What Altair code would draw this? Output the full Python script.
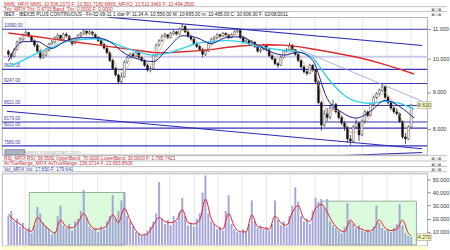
import altair as alt
import pandas as pd

# ---------------- data ----------------
OPEN = [10250,10150,10080,10300,10550,10650,10800,10880,10750,10600,10450,10250,10050,10120,10300,10480,10550,10700,10780,10650,
        10820,10760,10600,10500,10650,10780,10850,10930,10850,10900,10820,10700,10600,10480,10350,10200,9950,9700,9500,9300,
        9450,9900,10050,10150,10100,10200,10050,9950,9800,9650,9700,10100,10450,10600,10750,10800,10700,10850,10900,10820,
        11000,11100,10900,10750,10650,10500,10400,10300,10150,10250,10500,10650,10700,10800,10750,10850,10800,10700,10800,10900,
        10950,10700,10550,10600,10500,10550,10400,10250,10300,10450,10300,10100,10000,9850,9800,10050,10250,10300,10450,10300,
        10150,9950,9750,9600,9550,9800,9650,9300,8700,8100,8400,8300,8550,8650,8450,8300,8150,8050,7750,7700,
        8050,8150,7850,8200,8450,8350,8650,8850,8950,9050,9150,8850,8700,8550,8450,8400,8200,7800,7750,8050]
HIGH = [10300,10200,10350,10600,10720,10850,10950,10900,10780,10650,10500,10300,10200,10350,10520,10620,10750,10850,10800,10870,
        10880,10780,10650,10700,10820,10900,10980,10950,10960,10920,10850,10750,10650,10520,10400,10250,10000,9750,9550,9550,
        9950,10100,10200,10220,10250,10230,10100,10000,9850,9780,10150,10500,10650,10800,10870,10820,10900,10960,10930,11050,
        11180,11120,10950,10800,10700,10550,10450,10350,10300,10550,10700,10760,10850,10830,10900,10880,10830,10850,10950,11000,
        10970,10750,10680,10620,10620,10580,10430,10350,10500,10480,10330,10150,10030,9900,10100,10300,10350,10520,10480,10320,
        10180,9980,9800,9650,9850,9830,9680,9350,8750,8500,8550,8650,8780,8700,8500,8350,8200,8080,7850,8100,
        8250,8180,8250,8500,8480,8700,8900,9000,9100,9250,9180,8900,8750,8600,8550,8430,8230,7900,8100,8660]
LOW = [10050,9980,10050,10280,10500,10600,10750,10700,10550,10380,10200,9980,10000,10080,10250,10450,10500,10650,10600,10620,
       10700,10550,10420,10480,10600,10720,10800,10780,10800,10750,10650,10550,10420,10300,10150,9900,9650,9450,9250,9260,
       9420,9850,10000,10050,10050,10000,9900,9750,9600,9580,9680,10080,10400,10550,10700,10650,10680,10800,10770,10800,
       10950,10850,10700,10600,10450,10350,10250,10050,10100,10220,10450,10600,10650,10680,10720,10720,10650,10680,10780,10870,
       10650,10500,10520,10450,10470,10350,10200,10200,10280,10250,10050,9950,9800,9720,9780,10020,10200,10280,10250,10100,
       9900,9700,9550,9480,9530,9600,9250,8650,7950,8050,8200,8250,8500,8400,8250,8100,7950,7650,7600,7680,
       8000,7700,7820,8150,8300,8330,8600,8800,8900,9000,8800,8650,8500,8400,8350,8150,7750,7620,7720,8020]
CLOSE = [10150,10080,10300,10550,10650,10800,10880,10750,10600,10450,10250,10050,10120,10300,10480,10550,10700,10780,10650,10820,
         10760,10600,10500,10650,10780,10850,10930,10850,10900,10820,10700,10600,10480,10350,10200,9950,9700,9500,9300,9450,
         9900,10050,10150,10100,10200,10050,9950,9800,9650,9700,10100,10450,10600,10750,10800,10700,10850,10900,10820,11000,
         11100,10900,10750,10650,10500,10400,10300,10150,10250,10500,10650,10700,10800,10750,10850,10800,10700,10800,10900,10950,
         10700,10550,10600,10500,10550,10400,10250,10300,10450,10300,10100,10000,9850,9800,10050,10250,10300,10450,10300,10150,
         9950,9750,9600,9550,9800,9650,9300,8700,8100,8400,8300,8550,8650,8450,8300,8150,8050,7750,7700,8050,
         8150,7850,8200,8450,8350,8650,8850,8950,9050,9150,8850,8700,8550,8450,8400,8200,7800,7750,8050,8630]

VOLUME = [22000,26000,18000,20000,14000,17000,11000,13000,9000,15000,29000,24000,17000,14000,12000,8000,10000,22000,30000,15000,
          13000,16000,11000,18000,20000,26000,42000,21000,14000,12000,13000,10000,14000,12000,18000,22000,38000,20000,26000,34000,
          40000,22000,18000,14000,10000,9000,7000,8000,11000,14000,18000,24000,48000,20000,16000,19000,15000,22000,18000,25000,
          36000,22000,15000,17000,14000,20000,24000,40000,53000,24000,18000,16000,12000,14000,11000,26000,38000,16000,12000,10000,
          9000,12000,10000,16000,34000,18000,13000,15000,12000,14000,11000,16000,34000,19000,15000,18000,14000,22000,30000,44000,
          33000,22000,18000,20000,16000,26000,36000,33000,35000,28000,35000,18000,15000,13000,11000,9000,14000,32000,18000,16000,
          13000,15000,11000,10000,12000,10000,14000,30000,17000,13000,11000,12000,10000,13000,16000,31000,15000,9000,7000,6000]

# moving averages on the price panel, every 5 bars
MA_IDX = [0,5,10,15,20,25,30,35,40,45,50,55,60,65,70,75,80,85,90,95,100,105,110,115,120,125,130,135,140]
MA_RED = [10860,10795,10730,10660,10595,10530,10465,10400,10335,10270,10205,10200,10230,10260,10300,10370,10420,10450,10460,10450,
          10400,10320,10240,10150,10060,9950,9820,9680,9530]
MA_CYAN = [9761,9952,10186,10373,10566,10633,10665,10566,10373,10218,10122,10186,10341,10503,10566,10600,10566,10438,10341,10279,
           10218,10030,9430,8966,8736,8681,8736,8681,8519]
MA_NAVY = [9930,10566,10566,10341,10600,10700,10700,10566,10186,9985,9918,10341,10767,10700,10503,10700,10733,10503,10249,10122,
           10218,9952,8819,8439,8282,8466,8764,8594,8282]
# short average (orange), every 2 bars
ORANGE_IDX = list(range(0, 140, 2)) + [139]
ORANGE = [10100,10150,10400,10720,10780,10510,10220,10240,10430,10670,10750,10670,10630,10800,10880,10820,10650,10410,10050,9610,
          9540,9890,10130,10080,9860,9810,10210,10650,10780,10820,10950,10940,10700,10460,10280,10390,10660,10780,10780,10800,
          10840,10700,10550,10430,10350,10290,10060,9930,10100,10330,10210,9860,9680,9580,8940,8380,8480,8490,8240,7910,
          7910,8060,8210,8580,8880,9000,8810,8530,8210,7950,8050]
# volume average (red), every 2 bars
VMA_IDX = list(range(0, 140, 2)) + [139]
VMA = [23500,19000,16000,12000,10500,21000,16000,12000,9000,19000,14000,13000,17000,24000,16000,12000,12500,15000,23000,17000,
       28000,19000,11000,7500,8500,15000,21000,18000,17000,19000,27000,17000,16000,19000,35000,20000,14000,12000,24000,14000,
       10000,10000,23000,14000,13000,12000,22000,17000,15000,25000,30000,20000,18000,28000,31000,25000,17000,12000,10000,19000,
       14000,12000,10500,12000,19000,13000,11000,12000,19000,9000,7000]

# horizontal levels and trend lines
LEVELS = [10990, 9671, 9247, 8621, 8179, 8021, 7580]
LAVENDER_LEVEL = [10070]
TREND_NAME = ["upper", "upper", "lower", "lower", "base", "base", "thin", "thin"]
TREND_IDX = [34.5, 142.8, -0.5, 142.8, 79.5, 142.8, 100.5, 142.8]
TREND_VAL = [11423, 10438, 8466, 7512, 7257, 7421, 10297, 8736]

# annotation boxes on the volume panel
BOX_X1 = [7.2, 107.8]
BOX_X2 = [40.2, 140.8]
BOX_TOP = [40000, 33400]

MONTH_NAMES = ["Ago", "Sep", "Oct", "Nov", "Dic", "Ene", "Feb", "Mar", "Abr", "May", "Jun", "Jul", "Ago", "Sep", "Oct", "Nov", "Dic"]
MONTH_POS = [5.5, 13.83, 22.17, 30.5, 38.83, 47.17, 55.5, 63.83, 72.17, 80.5, 88.83, 97.17, 105.5, 113.83, 122.17, 130.5, 138.83]
PRICE_TICKS = [8000, 9000, 10000, 11000]
VOL_TICKS = [10000, 20000, 30000, 40000, 50000]

HEADER_TOP = [
    ("MMS_MFIX MMS: 10.506.2370 F: 10.591.7180 MMS_MFIX2: 10.512.3460 F: 10.494.2500", "#d03030", 1.5),
    ("Trix_MFIX Trix: 0.4733 Band_Trix: 0.0000 F: 0.0000", "#d03030", 6.2),
    ("IBEX - IBEX35 PLUS CONTINUOUS - Fri-02-09-11 1 diar  P: 11.24  A: 10.556.00  M: 10.695.00  m: 10.485.00  C: 10.606.00  F: 02/08/2011", "#222222", 11.3),
]
HEADER_MID = [
    ("RSI_MFIX RSI: 56.5582 UpperBand: 70.0000 LowerBand: 30.0000 F: 1.785.7421", "#c03040", 5.3),
    ("AvTrueRange_MFIX AvTrueRange: 236.0714 F: 22.693.8509", "#c03040", 10.8),
    ("Vol_MFIX Vol: 17.650 F: 179.641", "#3040b0", 16.2),
]

# ---------------- build ----------------
W = 430
FONT = "Liberation Sans"
xs = alt.Scale(domain=[-0.5, 142.83], nice=False, zero=False)
ys_p = alt.Scale(type="log", domain=[7370, 11420], nice=False, zero=False)
ys_v = alt.Scale(domain=[-560, 54500], nice=False, zero=False)

price = pd.DataFrame({"i": range(len(CLOSE)), "o": OPEN, "h": HIGH, "l": LOW, "c": CLOSE})
price["up"] = price["c"] >= price["o"]
vol = pd.DataFrame({"i": range(len(VOLUME)), "v": VOLUME})

grid_axis = alt.Axis(values=MONTH_POS, grid=True, gridColor="#e2e2e2", gridWidth=0.8, labels=False,
                     ticks=False, domain=False, title=None, minExtent=0, maxExtent=0)
price_axis = alt.Axis(orient="right", values=PRICE_TICKS, title=None, grid=False, domain=False,
                      tickSize=3, tickColor="#888", labelFontSize=5.5, labelColor="#333", labelFont=FONT,
                      labelPadding=2, labelOverlap=False,
                      labelExpr="replace(format(datum.value, ',d'), ',', '.')")

X = alt.X("i:Q", scale=xs, axis=grid_axis)
base = alt.Chart(price)

lvl = alt.Chart(pd.DataFrame({"v": LEVELS})).mark_rule(color="#3535c0", strokeWidth=1.1).encode(
    y=alt.Y("v:Q", scale=ys_p, axis=price_axis))
lvl_lab = alt.Chart(pd.DataFrame({"v": LEVELS, "t": [f"{v:.2f}" for v in LEVELS]})).mark_text(
    align="left", baseline="bottom", dy=-1, fontSize=4.6, color="#4040a0", font=FONT).encode(
    x=alt.value(2), y=alt.Y("v:Q", scale=ys_p), text="t:N")
lav = alt.Chart(pd.DataFrame({"v": LAVENDER_LEVEL})).mark_rule(color="#c9c9ec", strokeWidth=2).encode(
    y=alt.Y("v:Q", scale=ys_p))

wick = base.mark_rule(color="#111", strokeWidth=0.7).encode(x=X, y=alt.Y("l:Q", scale=ys_p), y2="h:Q")
body = base.mark_bar(size=2, stroke="#111", strokeWidth=0.4).encode(
    x=X, y=alt.Y("o:Q", scale=ys_p), y2="c:Q",
    fill=alt.condition("datum.up", alt.value("#ffffff"), alt.value("#111111")))

ma = pd.DataFrame({"i": MA_IDX, "red": MA_RED, "cyan": MA_CYAN, "navy": MA_NAVY})
red = alt.Chart(ma).mark_line(color="#dd2a2a", strokeWidth=1.4, clip=True).encode(x=X, y=alt.Y("red:Q", scale=ys_p))
cyan = alt.Chart(ma).mark_line(color="#33d0ee", strokeWidth=1.4, clip=True, interpolate="monotone").encode(
    x=X, y=alt.Y("cyan:Q", scale=ys_p))
navy = alt.Chart(ma).mark_line(color="#1c1c90", strokeWidth=1, clip=True, interpolate="monotone").encode(
    x=X, y=alt.Y("navy:Q", scale=ys_p))
orange = alt.Chart(pd.DataFrame({"i": ORANGE_IDX, "v": ORANGE})).mark_line(
    color="#e8a070", strokeWidth=0.7, clip=True).encode(x=X, y=alt.Y("v:Q", scale=ys_p))

trend = pd.DataFrame({"n": TREND_NAME, "i": TREND_IDX, "v": TREND_VAL})
trend_main = alt.Chart(trend).transform_filter("datum.n != 'thin'").mark_line(
    color="#2a2ab8", strokeWidth=1.1, clip=True).encode(x=X, y=alt.Y("v:Q", scale=ys_p), detail="n:N")
trend_thin = alt.Chart(trend).transform_filter("datum.n == 'thin'").mark_line(
    color="#9a9ad6", strokeWidth=0.8, clip=True).encode(x=X, y=alt.Y("v:Q", scale=ys_p), detail="n:N")

last = price.tail(1).copy()
last["t"] = last["c"].map(lambda v: f"{v:,.0f}".replace(",", "."))
last_box = alt.Chart(last).mark_rect(fill="#ffffc0", stroke="#999", strokeWidth=0.6, height=7).encode(
    x=alt.value(420), x2=alt.value(434), y=alt.Y("c:Q", scale=ys_p))
last_txt = alt.Chart(last).mark_text(fontSize=5, font=FONT, color="#333", align="center").encode(
    x=alt.value(427), y=alt.Y("c:Q", scale=ys_p), text="t:N")

wm = pd.DataFrame({"t": ["www.visualchart.com"]})
wm_box = alt.Chart(wm).mark_rect(fill="#aab4c4", stroke="#889").encode(
    x=alt.value(3), x2=alt.value(23), y=alt.value(134), y2=alt.value(139))
wm_txt = alt.Chart(wm).mark_text(align="left", fontSize=6, color="#b8b8b8", font=FONT, baseline="middle").encode(
    x=alt.value(24), y=alt.value(136.5), text="t:N")

price_panel = alt.layer(lav, lvl, lvl_lab, wick, body, orange, red, cyan, navy, trend_main, trend_thin,
                        last_box, last_txt, wm_box, wm_txt).properties(width=W, height=139)

# volume panel
month_expr = ""
for p, n in zip(MONTH_POS, MONTH_NAMES):
    month_expr += f"datum.value < {p + 1} ? '{n}' : "
month_expr += "''"
vx_axis = alt.Axis(values=MONTH_POS, grid=True, gridColor="#e2e2e2", gridWidth=0.8, title=None,
                   domain=False, tickSize=1.5, tickColor="#999", labelFontSize=4.6, labelFont=FONT,
                   labelColor="#555", labelPadding=0, labelOverlap=False, labelExpr=month_expr)
vol_axis = alt.Axis(orient="right", values=VOL_TICKS, title=None, grid=False, domain=False,
                    tickSize=3, tickColor="#888", labelFontSize=5.5, labelColor="#333", labelFont=FONT,
                    labelPadding=2, labelOverlap=False,
                    labelExpr="replace(format(datum.value, ',d'), ',', '.')")
VX = alt.X("i:Q", scale=xs, axis=vx_axis)
VY = alt.Y("v:Q", scale=ys_v, axis=vol_axis)

strip = alt.Chart(pd.DataFrame({"a": [0]})).mark_rect(fill="#ffffcc").encode(
    x=alt.value(0), x2=alt.value(W), y=alt.value(73.5), y2=alt.value(82))
boxes = alt.Chart(pd.DataFrame({"x1": BOX_X1, "x2": BOX_X2, "v": BOX_TOP, "bot": [0, 0]})).mark_rect(
    fill="#dcfadc", stroke="#8a9a8a", strokeWidth=0.8).encode(
    x=alt.X("x1:Q", scale=xs, axis=vx_axis), x2="x2:Q", y=VY, y2="bot:Q")
vbars = alt.Chart(vol).mark_bar(size=2, color="#9c9cd6", opacity=0.9).encode(
    x=VX, y=VY, y2=alt.datum(0))
vma = alt.Chart(pd.DataFrame({"i": VMA_IDX, "v": VMA})).mark_line(color="#e02020", strokeWidth=1, clip=True,
                                                                  interpolate="monotone").encode(x=VX, y=VY)
vlast = vol.tail(1).copy()
vlast["t"] = ["4.270"]
vlast_box = alt.Chart(vlast).mark_rect(fill="#ffffc0", stroke="#999", strokeWidth=0.6, height=7).encode(
    x=alt.value(420), x2=alt.value(434), y=VY)
vlast_txt = alt.Chart(vlast).mark_text(fontSize=5, font=FONT, color="#333").encode(
    x=alt.value(427), y=VY, text="t:N")

vol_panel = alt.layer(strip, boxes, vbars, vma, vlast_box, vlast_txt).properties(width=W, height=73)


def header(rows, rule_ys, h, icon_ys):
    sc = alt.Scale(domain=[0, h], range=[0, h])
    t = pd.DataFrame({"t": [r[0] for r in rows], "c": [r[1] for r in rows], "y": [r[2] for r in rows]})
    txt = alt.Chart(t).mark_text(align="left", baseline="alphabetic", fontSize=4.8, font=FONT).encode(
        x=alt.value(2), y=alt.Y("y:Q", scale=sc, axis=None),
        text="t:N", color=alt.Color("c:N", scale=None))
    r = pd.DataFrame({"y": rule_ys})
    rules = alt.Chart(r).mark_rule(color="#b0b0b0", strokeWidth=0.8).encode(
        x=alt.value(0), x2=alt.value(450), y=alt.Y("y:Q", scale=sc, axis=None))
    ic = pd.DataFrame({"y": icon_ys})
    icons = alt.Chart(ic).mark_text(text="▪▫▪", fontSize=5, color="#888", align="left",
                                    baseline="middle", font="DejaVu Sans").encode(
        x=alt.value(434), y=alt.Y("y:Q", scale=sc, axis=None))
    return alt.layer(rules, txt, icons).properties(width=W, height=h, view=alt.ViewConfig(stroke="transparent"))


top = header(HEADER_TOP, [2.3, 7.3], 13, [4.8, 9.8])
mid = header(HEADER_MID, [1, 6.3, 12, 17.3], 19, [3.6, 9.1, 14.7])

chart = alt.vconcat(top, price_panel, mid, vol_panel, spacing=0, bounds="flush").properties(
    padding=0, background="white").configure_view(stroke="#a0a0a0", strokeWidth=0.8)

chart.save("out.html", embed_options={"renderer": "svg", "actions": False})
